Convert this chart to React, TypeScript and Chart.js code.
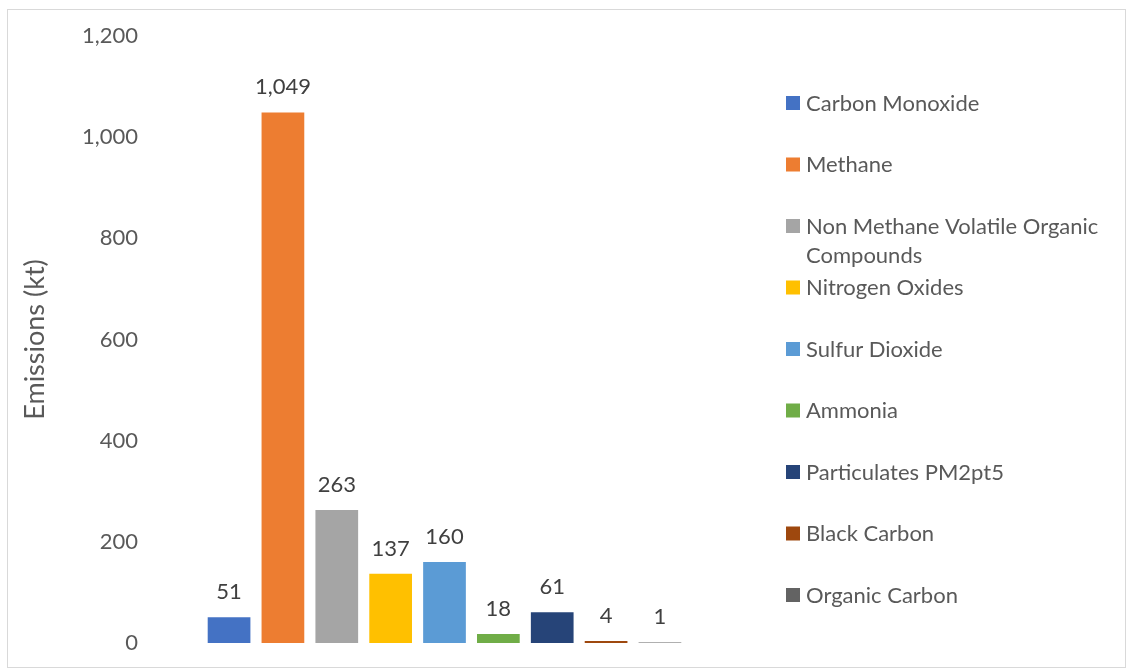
import React, { useEffect, useRef } from 'react';
import { Chart, registerables } from 'chart.js';

Chart.register(...registerables);

const categories = [''];
const seriesNames = [
  'Carbon Monoxide',
  'Methane',
  'Non Methane Volatile Organic Compounds',
  'Nitrogen Oxides',
  'Sulfur Dioxide',
  'Ammonia',
  'Particulates PM2pt5',
  'Black Carbon',
  'Organic Carbon',
];
const seriesValues = [51, 1049, 263, 137, 160, 18, 61, 4, 1];
const seriesColors = ['#4472C4', '#ED7D31', '#A5A5A5', '#FFC000', '#5B9BD5', '#70AD47', '#264478', '#9E480E', '#636363'];
const yTicks = [0, 200, 400, 600, 800, 1000, 1200];
const yTitle = 'Emissions (kt)';

const FONT_FAMILY = 'Lato, "Open Sans", sans-serif';
const FONT_SIZE = 22;
const TITLE_SIZE = 27;
const TEXT_COLOR = '#595959';
const LABEL_COLOR = '#404040';

const fmt = (v: number) => Number(v).toLocaleString('en-US');

const framePlugin = {
  id: 'frame',
  beforeDraw(chart: any) {
    const { ctx, width, height } = chart;
    ctx.save();
    ctx.fillStyle = '#ffffff';
    ctx.fillRect(0, 0, width, height);
    ctx.strokeStyle = '#d9d9d9';
    ctx.lineWidth = 1;
    ctx.strokeRect(7.5, 9.5, width - 9, height - 11);
    ctx.restore();
  },
};

const dataLabelPlugin = {
  id: 'dataLabels',
  afterDatasetsDraw(chart: any) {
    const { ctx } = chart;
    ctx.save();
    ctx.font = `${FONT_SIZE}px ${FONT_FAMILY}`;
    ctx.fillStyle = LABEL_COLOR;
    ctx.textAlign = 'center';
    ctx.textBaseline = 'alphabetic';
    chart.data.datasets.forEach((ds: any, i: number) => {
      const meta = chart.getDatasetMeta(i);
      meta.data.forEach((el: any, j: number) => {
        ctx.fillText(fmt(ds.data[j]), el.x, el.y - 18);
      });
    });
    ctx.restore();
  },
};

function wrapText(ctx: CanvasRenderingContext2D, text: string, maxWidth: number): string[] {
  const words = text.split(' ');
  const lines: string[] = [];
  let line = '';
  words.forEach((w) => {
    const test = line ? line + ' ' + w : w;
    if (line && ctx.measureText(test).width > maxWidth) {
      lines.push(line);
      line = w;
    } else {
      line = test;
    }
  });
  if (line) lines.push(line);
  return lines;
}

const legendPlugin = {
  id: 'sideLegend',
  afterDraw(chart: any) {
    const { ctx, chartArea } = chart;
    const boxX = chartArea.right + 47;
    const textX = boxX + 20;
    const startY = 103;
    const step = 61.5;
    const lineH = 29;
    ctx.save();
    ctx.font = `${FONT_SIZE}px ${FONT_FAMILY}`;
    ctx.textAlign = 'left';
    ctx.textBaseline = 'alphabetic';
    chart.data.datasets.forEach((ds: any, i: number) => {
      const cy = startY + i * step;
      ctx.fillStyle = ds.backgroundColor;
      ctx.fillRect(boxX, cy - 7, 14, 14);
      ctx.fillStyle = TEXT_COLOR;
      const lines = wrapText(ctx, ds.label, 312);
      lines.forEach((ln, k) => {
        ctx.fillText(ln, textX, cy + 7.5 + k * lineH);
      });
    });
    ctx.restore();
  },
};

export default function App() {
  const ref = useRef<HTMLCanvasElement | null>(null);

  useEffect(() => {
    if (!ref.current) return;
    const chart = new Chart(ref.current, {
      type: 'bar',
      data: {
        labels: categories,
        datasets: seriesNames.map((name, i) => ({
          label: name,
          data: [seriesValues[i]],
          backgroundColor: seriesColors[i],
          borderWidth: 0,
        })),
      },
      options: {
        animation: false,
        responsive: false,
        maintainAspectRatio: false,
        categoryPercentage: 0.823,
        barPercentage: 0.793,
        layout: { padding: { left: 8, right: 388, top: 36, bottom: 26 } },
        plugins: {
          legend: { display: false },
          tooltip: { enabled: false },
          title: { display: false },
        },
        scales: {
          x: { display: false },
          y: {
            min: 0,
            max: 1200,
            grid: { display: false, drawTicks: false },
            border: { display: false },
            afterBuildTicks: (scale: any) => {
              scale.ticks = yTicks.map((v) => ({ value: v }));
            },
            afterFit: (scale: any) => {
              scale.width = 142;
            },
            ticks: {
              padding: 12,
              color: TEXT_COLOR,
              font: { family: FONT_FAMILY, size: FONT_SIZE },
              callback: (v: any) => fmt(Number(v)),
            },
            title: {
              display: true,
              text: yTitle,
              color: TEXT_COLOR,
              font: { family: FONT_FAMILY, size: TITLE_SIZE },
              padding: { top: 11, bottom: 0 },
            },
          },
        },
      },
      plugins: [framePlugin, dataLabelPlugin, legendPlugin],
    });
    return () => chart.destroy();
  }, []);

  return (
    <div style={{ position: 'fixed', left: 0, top: 0, width: 1127, height: 669 }}>
      <canvas ref={ref} width={1127} height={669} style={{ display: 'block', width: 1127, height: 669 }} />
    </div>
  );
}
